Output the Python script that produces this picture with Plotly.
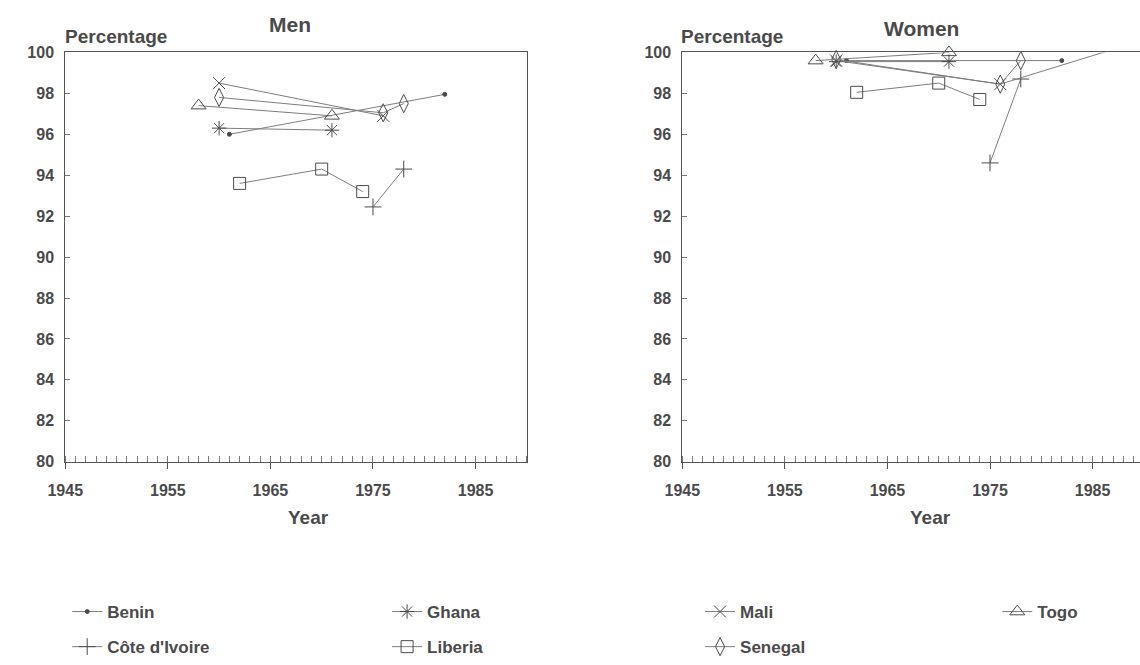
import plotly.graph_objects as go

# ---------------- data ----------------
countries = ["Benin", "Côte d'Ivoire", "Ghana", "Liberia", "Mali", "Senegal", "Togo"]

men_years = {
    "Benin": [1961, 1982],
    "Côte d'Ivoire": [1975, 1978],
    "Ghana": [1960, 1971],
    "Liberia": [1962, 1970, 1974],
    "Mali": [1960, 1976],
    "Senegal": [1960, 1976, 1978],
    "Togo": [1958, 1971],
}
men_values = {
    "Benin": [96.0, 97.95],
    "Côte d'Ivoire": [92.45, 94.3],
    "Ghana": [96.3, 96.2],
    "Liberia": [93.6, 94.3, 93.2],
    "Mali": [98.5, 96.9],
    "Senegal": [97.8, 97.05, 97.5],
    "Togo": [97.4, 96.9],
}

women_years = {
    "Benin": [1961, 1982],
    "Côte d'Ivoire": [1975, 1978],
    "Ghana": [1960, 1971],
    "Liberia": [1962, 1970, 1974],
    "Mali": [1960, 1976, 1987],
    "Senegal": [1960, 1976, 1978],
    "Togo": [1958, 1971],
}
women_values = {
    "Benin": [99.6, 99.6],
    "Côte d'Ivoire": [94.6, 98.7],
    "Ghana": [99.55, 99.55],
    "Liberia": [98.05, 98.5, 97.7],
    "Mali": [99.6, 98.45, 100.15],
    "Senegal": [99.65, 98.45, 99.6],
    "Togo": [99.6, 100.0],
}

x_ticks = [1945, 1955, 1965, 1975, 1985]
y_ticks = [80, 82, 84, 86, 88, 90, 92, 94, 96, 98, 100]

# ---------------- styles ----------------
symbols = {
    "Benin": ("circle", 4),
    "Côte d'Ivoire": ("cross-thin-open", 12),
    "Ghana": ("asterisk-open", 12),
    "Liberia": ("square-open", 12),
    "Mali": ("x-thin-open", 12),
    "Senegal": ("diamond-tall-open", 13),
    "Togo": ("triangle-up-open", 13),
}
legend_of = {
    "Benin": "legend", "Côte d'Ivoire": "legend",
    "Ghana": "legend2", "Liberia": "legend2",
    "Mali": "legend3", "Senegal": "legend3",
    "Togo": "legend4",
}
LINE = "#7d7d7d"
MARK = "#4a4a4a"
TEXT = "#4a4a4a"
FONT = "Liberation Sans"

W, H = 1140, 665
def px_x(p): return p / W
def px_y(p): return (H - p) / H

fig = go.Figure()

for c in countries:
    sym, sz = symbols[c]
    fig.add_trace(go.Scatter(
        x=men_years[c], y=men_values[c], mode="lines+markers", name=c,
        xaxis="x", yaxis="y",
        line=dict(color=LINE, width=1),
        marker=dict(symbol=sym, size=sz, color=MARK, line=dict(color=MARK, width=1)),
        legend=legend_of[c], legendgroup=c, showlegend=True, cliponaxis=False,
    ))
    fig.add_trace(go.Scatter(
        x=women_years[c], y=women_values[c], mode="lines+markers", name=c,
        xaxis="x2", yaxis="y2",
        line=dict(color=LINE, width=1),
        marker=dict(symbol=sym, size=sz, color=MARK, line=dict(color=MARK, width=1)),
        legendgroup=c, showlegend=False, cliponaxis=False,
    ))

tickfont = dict(family=FONT, size=16, color=TEXT, weight="bold")

def xaxis(domain, rng):
    return dict(
        domain=domain, range=rng, tickvals=x_ticks, ticktext=[str(v) for v in x_ticks],
        showgrid=False, zeroline=False, showline=True, linecolor="#555", linewidth=1,
        mirror=True, ticks="outside", ticklen=6, tickcolor="#555",
        minor=dict(dtick=1, ticks="inside", ticklen=6, tickcolor="#777", showgrid=False),
        tickfont=tickfont, ticklabelstandoff=8,
    )

def yaxis(domain, anchor, mirror):
    return dict(
        domain=domain, range=[80, 100], tickvals=y_ticks, anchor=anchor,
        showgrid=False, zeroline=False, showline=True, linecolor="#555", linewidth=1,
        mirror=mirror, ticks="inside", ticklen=5, tickcolor="#777",
        tickfont=tickfont, ticklabelstandoff=7,
    )

ydom = [px_y(470), px_y(46)]
fig.update_layout(
    width=W, height=H, margin=dict(l=0, r=0, t=0, b=0),
    paper_bgcolor="white", plot_bgcolor="white",
    xaxis=dict(**xaxis([px_x(48), px_x(517)], [1945, 1990]), anchor="y"),
    yaxis=yaxis(ydom, "x", True),
    xaxis2=dict(**xaxis([px_x(675), 1.0], [1945, 1945 + (W - 675) / 10.42]), anchor="y2"),
    yaxis2=yaxis(ydom, "x2", False),
    showlegend=True,
)

legfont = dict(family=FONT, size=17, color=TEXT, weight="bold")
def leg(xpx):
    return dict(x=px_x(xpx), y=px_y(607), xanchor="left", yanchor="top",
                font=legfont, bgcolor="rgba(0,0,0,0)", tracegroupgap=10,
                itemwidth=30)
fig.update_layout(legend=leg(50), legend2=leg(375), legend3=leg(693), legend4=leg(995))

ann = []
def label(text, xpx, ypx, size, xanchor="center"):
    ann.append(dict(text=text, x=px_x(xpx), y=px_y(ypx), xref="paper", yref="paper",
                    showarrow=False, xanchor=xanchor, yanchor="middle",
                    font=dict(family=FONT, size=size, color=TEXT, weight="bold")))
label("Men", 276, 17, 21)
label("Women", 918, 21, 21)
label("Percentage", 46, 30, 19, "left")
label("Percentage", 672, 30, 19, "left")
label("Year", 295, 528, 19)
label("Year", 927, 528, 19)
fig.update_layout(annotations=ann)

fig.write_html("out.html")
